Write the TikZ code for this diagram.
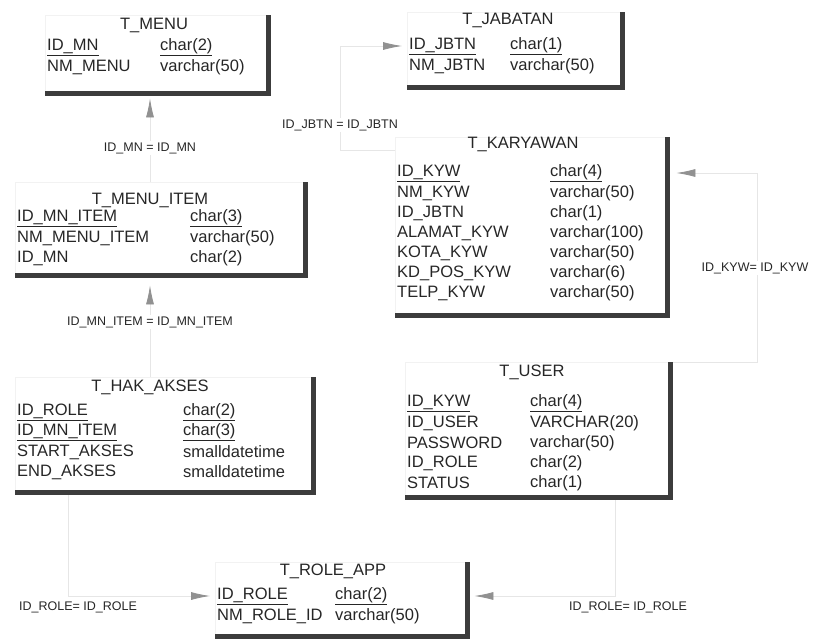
\documentclass[tikz,border=0pt]{standalone}
\usepackage{fontspec}
\setmainfont{Liberation Sans}
\usetikzlibrary{arrows.meta, positioning}
\definecolor{shadecol}{RGB}{60,60,60}
\definecolor{inkcol}{RGB}{38,38,38}
\definecolor{relcol}{RGB}{230,230,230}
\definecolor{tipcol}{RGB}{145,145,145}

\begin{document}
\begin{tikzpicture}[
  x=1pt, y=-1pt,
  tbl/.style={draw=black!5, thin, inner sep=0pt, anchor=north west},
  edge/.style={draw=shadecol, line width=5.5pt, line join=miter},
  ttl/.style={font=\fontsize{16.5}{19}\selectfont, text=inkcol, inner sep=0pt},
  fld/.style={font=\fontsize{16.5}{19}\selectfont, text=inkcol, inner sep=0pt,
              anchor=west},
  rel/.style={draw=relcol, line width=0.8pt,
              -{Latex[length=19pt, width=8pt, color=tipcol]}},
  lbl/.style={font=\fontsize{12.5}{14}\selectfont, text=inkcol, fill=white,
              inner sep=1.5pt}
]
  \useasboundingbox (0,0) rectangle (817,643);

  % table frames
  \node[tbl, minimum width=223pt, minimum height=78pt] (menu) at (45,15) {};
  \node[tbl, minimum width=215pt, minimum height=75pt] (jabatan) at (407,12) {};
  \node[tbl, minimum width=290pt, minimum height=93pt] (menuitem) at (15,182) {};
  \node[tbl, minimum width=272pt, minimum height=178pt] (karyawan) at (395,137) {};
  \node[tbl, minimum width=298pt, minimum height=115pt] (hakakses) at (15,377) {};
  \node[tbl, minimum width=265pt, minimum height=135pt] (user) at (405,362) {};
  \node[tbl, minimum width=252pt, minimum height=74pt] (roleapp) at (215,562) {};

  % T_MENU
  \node[ttl] (menu-ttl) at (154,25) {T\_MENU};
  \foreach \y/\a/\b [count=\i] in {47/\underline{ID\_MN}/\underline{char(2)},
                                   67/NM\_MENU/varchar(50)} {
    \node[fld] (menu-k\i) at (47,\y) {\a};
    \node[fld] (menu-t\i) at (160,\y) {\b};
  }

  % T_JABATAN
  \node[ttl] (jab-ttl) at (508,20) {T\_JABATAN};
  \foreach \y/\a/\b [count=\i] in {46/\underline{ID\_JBTN}/\underline{char(1)},
                                   66/NM\_JBTN/varchar(50)} {
    \node[fld] (jab-k\i) at (409,\y) {\a};
    \node[fld] (jab-t\i) at (510,\y) {\b};
  }

  % T_MENU_ITEM
  \node[ttl] (item-ttl) at (150,200) {T\_MENU\_ITEM};
  \foreach \y/\a/\b [count=\i] in {218/\underline{ID\_MN\_ITEM}/\underline{char(3)},
                                   238/NM\_MENU\_ITEM/varchar(50),
                                   258/ID\_MN/char(2)} {
    \node[fld] (item-k\i) at (17,\y) {\a};
    \node[fld] (item-t\i) at (190,\y) {\b};
  }

  % T_KARYAWAN
  \node[ttl] (kyw-ttl) at (523,144) {T\_KARYAWAN};
  \foreach \y/\a/\b [count=\i] in {173/\underline{ID\_KYW}/\underline{char(4)},
                                   193/NM\_KYW/varchar(50),
                                   213/ID\_JBTN/char(1),
                                   233/ALAMAT\_KYW/varchar(100),
                                   253/KOTA\_KYW/varchar(50),
                                   273/KD\_POS\_KYW/varchar(6),
                                   293/TELP\_KYW/varchar(50)} {
    \node[fld] (kyw-k\i) at (397,\y) {\a};
    \node[fld] (kyw-t\i) at (550,\y) {\b};
  }

  % T_HAK_AKSES
  \node[ttl] (hak-ttl) at (150,387) {T\_HAK\_AKSES};
  \foreach \y/\a/\b [count=\i] in {412/\underline{ID\_ROLE}/\underline{char(2)},
                                   432/\underline{ID\_MN\_ITEM}/\underline{char(3)},
                                   452/START\_AKSES/smalldatetime,
                                   472/END\_AKSES/smalldatetime} {
    \node[fld] (hak-k\i) at (17,\y) {\a};
    \node[fld] (hak-t\i) at (183,\y) {\b};
  }

  % T_USER
  \node[ttl] (user-ttl) at (532,372) {T\_USER};
  \foreach \y/\a/\b [count=\i] in {403/\underline{ID\_KYW}/\underline{char(4)},
                                   423/ID\_USER/VARCHAR(20),
                                   443/PASSWORD/varchar(50),
                                   463/ID\_ROLE/char(2),
                                   483/STATUS/char(1)} {
    \node[fld] (user-k\i) at (407,\y) {\a};
    \node[fld] (user-t\i) at (530,\y) {\b};
  }

  % T_ROLE_APP
  \node[ttl] (role-ttl) at (333,571) {T\_ROLE\_APP};
  \foreach \y/\a/\b [count=\i] in {596/\underline{ID\_ROLE}/\underline{char(2)},
                                   616/NM\_ROLE\_ID/varchar(50)} {
    \node[fld] (role-k\i) at (217,\y) {\a};
    \node[fld] (role-t\i) at (335,\y) {\b};
  }

  % references
  \coordinate (colA) at (150,0);
  \coordinate (jbA) at (340,150);
  \coordinate (kywA) at (757,173);
  \coordinate (rlA) at (68,0);
  \coordinate (rlB) at (615,0);
  \draw[rel] (menuitem.north -| colA) -- ([yshift=-5pt]menu.south -| colA);
  \draw[rel] (hakakses.north -| colA) -- ([yshift=-10pt]menuitem.south -| colA);
  \draw[rel] (karyawan.north west |- jbA) -- (jbA) |- ([xshift=-5pt]jabatan.west |- jab-k1);
  \draw[rel] (user.north east) -| (kywA) -- ([xshift=9pt]karyawan.east |- kywA);
  \draw[rel] (hakakses.south -| rlA) |- ([xshift=-5pt]roleapp.west |- role-k1);
  \draw[rel] (user.south -| rlB) |- ([xshift=7pt]roleapp.east |- role-k1);

  \node[lbl] (l-mn) at (150,148) {ID\_MN = ID\_MN};
  \node[lbl] (l-item) at (150,322) {ID\_MN\_ITEM = ID\_MN\_ITEM};
  \node[lbl] (l-jbtn) at (340,125) {ID\_JBTN = ID\_JBTN};
  \node[lbl] (l-kyw) at (755,268) {ID\_KYW= ID\_KYW};
  \node[lbl] (l-rl1) at (78,607) {ID\_ROLE= ID\_ROLE};
  \node[lbl] (l-rl2) at (628,607) {ID\_ROLE= ID\_ROLE};

  % thick right and bottom edges
  \foreach \t in {menu, jabatan, menuitem, karyawan, hakakses, user, roleapp}
    \draw[edge] (\t.north east) -- (\t.south east) -- (\t.south west);
\end{tikzpicture}
\end{document}
